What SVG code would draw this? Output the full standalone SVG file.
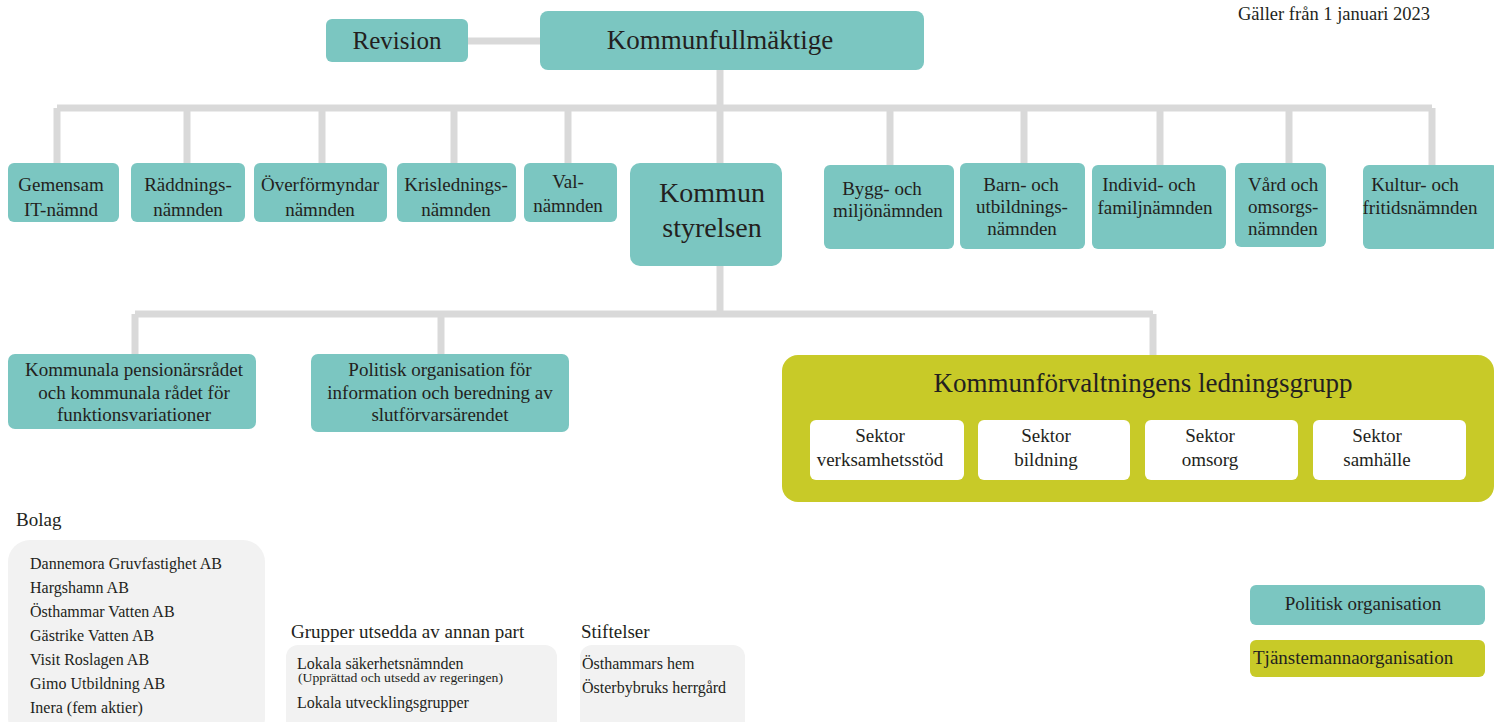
<svg xmlns="http://www.w3.org/2000/svg" width="1494" height="722" viewBox="0 0 1494 722">
<style>
text{font-family:"Liberation Serif","Times New Roman",serif;fill:#231f20;}
.t{fill:#7bc6c1;}
.y{fill:#c8ca28;}
.w{fill:#ffffff;}
.g{fill:#f2f2f2;}
.c{stroke:#d9d9d9;stroke-width:7;fill:none;stroke-linecap:butt;}
.m{text-anchor:middle;}
.s19{font-size:19px;}
.s16{font-size:16px;}
</style>
<g id="connectors">
<path class="c" d="M468 41H540"/>
<path class="c" d="M720 70V108"/>
<path class="c" d="M57 108H1432"/>
<path class="c" d="M57 108V163M187 108V163M322 108V163M454 108V163M568 108V163M720 108V163M890 108V165M1024 108V163M1160 108V165M1289 108V163M1432 108V165"/>
<path class="c" d="M720 266V314"/>
<path class="c" d="M135 314H1153"/>
<path class="c" d="M135 314V354M441 314V354M1153 314V355"/>
</g>
<g id="date"><text x="1238" y="20" font-size="18.5">Gäller från 1 januari 2023</text></g>
<g id="revision"><rect class="t" x="326" y="19" width="142" height="43" rx="6"/><text class="m" x="397" y="49" font-size="25">Revision</text></g>
<g id="kf"><rect class="t" x="540" y="11" width="384" height="59" rx="8"/><text class="m" x="720" y="49" font-size="27">Kommunfullmäktige</text></g>
<g id="n1"><rect class="t" x="8" y="163" width="111" height="59" rx="6"/><text class="m s19" x="61" y="191">Gemensam</text><text class="m s19" x="61" y="216">IT-nämnd</text></g>
<g id="n2"><rect class="t" x="131" y="163" width="114" height="59" rx="6"/><text class="m s19" x="188" y="191">Räddnings-</text><text class="m s19" x="188" y="216">nämnden</text></g>
<g id="n3"><rect class="t" x="254" y="163" width="133" height="59" rx="6"/><text class="m s19" x="320" y="191">Överförmyndar</text><text class="m s19" x="320" y="216">nämnden</text></g>
<g id="n4"><rect class="t" x="397" y="163" width="119" height="59" rx="6"/><text class="m s19" x="456" y="191">Krislednings-</text><text class="m s19" x="456" y="216">nämnden</text></g>
<g id="n5"><rect class="t" x="524" y="163" width="93" height="59" rx="6"/><text class="m s19" x="568" y="188">Val-</text><text class="m s19" x="568" y="212">nämnden</text></g>
<g id="ks"><rect class="t" x="630" y="163" width="152" height="103" rx="10"/><text class="m" x="712" y="202" font-size="28">Kommun</text><text class="m" x="712" y="237" font-size="28">styrelsen</text></g>
<g id="n6"><rect class="t" x="824" y="165" width="130" height="84" rx="6"/><text class="m s19" x="882" y="195">Bygg- och</text><text class="m s19" x="888" y="217">miljönämnden</text></g>
<g id="n7"><rect class="t" x="960" y="163" width="125" height="86" rx="6"/><text class="m s19" x="1021" y="191">Barn- och</text><text class="m s19" x="1022" y="213">utbildnings-</text><text class="m s19" x="1022" y="235">nämnden</text></g>
<g id="n8"><rect class="t" x="1092" y="165" width="134" height="84" rx="6"/><text class="m s19" x="1149" y="191">Individ- och</text><text class="m s19" x="1155" y="214">familjnämnden</text></g>
<g id="n9"><rect class="t" x="1235" y="163" width="91" height="84" rx="6"/><text class="s19" x="1248" y="191">Vård och</text><text class="s19" x="1248" y="213">omsorgs-</text><text class="s19" x="1248" y="235">nämnden</text></g>
<g id="n10"><rect class="t" x="1363" y="165" width="135" height="84" rx="6"/><text class="m s19" x="1415" y="191">Kultur- och</text><text class="m s19" x="1420" y="214">fritidsnämnden</text></g>
<g id="kpr"><rect class="t" x="8" y="354" width="248" height="75" rx="7"/><text class="m s19" x="134" y="376">Kommunala pensionärsrådet</text><text class="m s19" x="134" y="399">och kommunala rådet för</text><text class="m s19" x="134" y="421">funktionsvariationer</text></g>
<g id="pol"><rect class="t" x="311" y="354" width="258" height="78" rx="7"/><text class="m s19" x="440" y="376">Politisk organisation för</text><text class="m s19" x="440" y="399">information och beredning av</text><text class="m s19" x="440" y="421">slutförvarsärendet</text></g>
<g id="klg"><rect class="y" x="782" y="355" width="712" height="147" rx="16"/><text class="m" x="1143" y="392" font-size="27">Kommunförvaltningens ledningsgrupp</text>
<rect class="w" x="810" y="420" width="154" height="60" rx="6"/><text class="m s19" x="880" y="442">Sektor</text><text class="m s19" x="880" y="466">verksamhetsstöd</text>
<rect class="w" x="978" y="420" width="152" height="60" rx="6"/><text class="m s19" x="1046" y="442">Sektor</text><text class="m s19" x="1046" y="466">bildning</text>
<rect class="w" x="1145" y="420" width="153" height="60" rx="6"/><text class="m s19" x="1210" y="442">Sektor</text><text class="m s19" x="1210" y="466">omsorg</text>
<rect class="w" x="1313" y="420" width="153" height="60" rx="6"/><text class="m s19" x="1377" y="442">Sektor</text><text class="m s19" x="1377" y="466">samhälle</text></g>
<g id="bolag"><text class="s19" x="16" y="526">Bolag</text><rect class="g" x="8" y="540" width="257" height="200" rx="22"/>
<text class="s16" x="30" y="569">Dannemora Gruvfastighet AB</text>
<text class="s16" x="30" y="593">Hargshamn AB</text>
<text class="s16" x="30" y="617">Östhammar Vatten AB</text>
<text class="s16" x="30" y="641">Gästrike Vatten AB</text>
<text class="s16" x="30" y="665">Visit Roslagen AB</text>
<text class="s16" x="30" y="689">Gimo Utbildning AB</text>
<text class="s16" x="30" y="713">Inera (fem aktier)</text></g>
<g id="grupper"><text class="s19" x="291" y="638">Grupper utsedda av annan part</text><rect class="g" x="286" y="645" width="271" height="90" rx="12"/>
<text class="s16" x="297" y="669">Lokala säkerhetsnämnden</text>
<text x="298" y="682" font-size="12.5" textLength="205" lengthAdjust="spacingAndGlyphs">(Upprättad och utsedd av regeringen)</text>
<text class="s16" x="297" y="708">Lokala utvecklingsgrupper</text></g>
<g id="stift"><text class="s19" x="581" y="638">Stiftelser</text><rect class="g" x="580" y="645" width="165" height="90" rx="12"/>
<text class="s16" x="582" y="669">Östhammars hem</text>
<text class="s16" x="582" y="693">Österbybruks herrgård</text></g>
<g id="legend"><rect class="t" x="1250" y="585" width="235" height="40" rx="6"/><text class="m s19" x="1363" y="610">Politisk organisation</text>
<rect class="y" x="1250" y="640" width="235" height="37" rx="6"/><text class="s19" x="1253" y="664">Tjänstemannaorganisation</text></g>
</svg>
